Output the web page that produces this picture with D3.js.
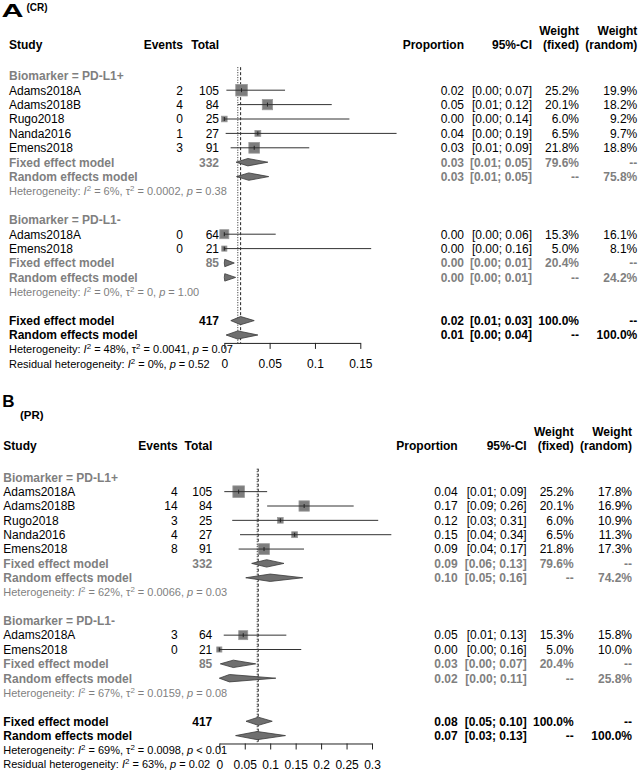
<!DOCTYPE html>
<html><head><meta charset="utf-8">
<script src="https://cdn.jsdelivr.net/npm/d3@7"></script>
<style>
body{margin:0;background:#fff}
svg{display:block;font-family:"Liberation Sans",Arial,Helvetica,sans-serif}
text{white-space:pre}
</style>
</head><body>
<svg id="c" width="639" height="775"></svg>
<script>
// ---------- shared data ----------
const groupLabels = ["Biomarker = PD-L1+", "Biomarker = PD-L1-"];
const studyNames = ["Adams2018A","Adams2018B","Rugo2018","Nanda2016","Emens2018","Adams2018A","Emens2018"];
const totalN = [105, 84, 25, 27, 91, 64, 21];
const modelTotals = [332, 85, 417];
const wFixed = [25.2, 20.1, 6.0, 6.5, 21.8, 15.3, 5.0];
const modelWFixed = [79.6, 20.4, 100.0];

// ---------- panel A (CR) ----------
const eventsA = [2, 4, 0, 1, 3, 0, 0];
const estA  = [0.019, 0.0476, 0.000, 0.037, 0.033, 0.000, 0.000];
const lowA  = [0.0023, 0.0148, 0.000, 0.0015, 0.007, 0.000, 0.000];
const highA = [0.067, 0.1185, 0.138, 0.190, 0.0937, 0.0567, 0.162];
const wRandomA = [19.9, 18.2, 9.2, 9.7, 18.8, 16.1, 8.1];
const fixedEstA  = [0.026, 0.0005, 0.018];
const fixedLowA  = [0.013, 0.000, 0.0072];
const fixedHighA = [0.048, 0.011, 0.033];
const randomEstA  = [0.027, 0.0005, 0.0149];
const randomLowA  = [0.0135, 0.000, 0.002];
const randomHighA = [0.049, 0.0125, 0.037];
const modelWRandomA = [75.8, 24.2, 100.0];
const hetI2A  = ["6%", "0%", "48%"];
const hetTauA = ["0.0002", "0", "0.0041"];
const hetPA   = ["= 0.38", "= 1.00", "= 0.07"];
const residA  = ["0%", "= 0.52"];
const ticksA  = [0, 0.05, 0.1, 0.15];

// ---------- panel B (PR) ----------
const eventsB = [4, 14, 3, 4, 8, 3, 0];
const estB  = [0.038, 0.1667, 0.12, 0.148, 0.0879, 0.047, 0.000];
const lowB  = [0.0098, 0.094, 0.0254, 0.0407, 0.038, 0.0087, 0.000];
const highB = [0.094, 0.264, 0.3122, 0.338, 0.1664, 0.1317, 0.161];
const wRandomB = [17.8, 16.9, 10.9, 11.3, 17.3, 15.8, 10.0];
const fixedEstB  = [0.093, 0.0275, 0.0765];
const fixedLowB  = [0.0636, 0.002, 0.0525];
const fixedHighB = [0.127, 0.0715, 0.104];
const randomEstB  = [0.100, 0.020, 0.0745];
const randomLowB  = [0.052, 0.000, 0.032];
const randomHighB = [0.164, 0.111, 0.130];
const modelWRandomB = [74.2, 25.8, 100.0];
const hetI2B  = ["62%", "67%", "69%"];
const hetTauB = ["0.0066", "0.0159", "0.0098"];
const hetPB   = ["= 0.03", "= 0.08", "< 0.01"];
const residB  = ["63%", "= 0.02"];
const ticksB  = [0, 0.05, 0.1, 0.15, 0.2, 0.25, 0.3];

// ---------- drawing ----------
const svg = d3.select("#c");
const GRAY = "#7f7f7f";
const f2 = d3.format(".2f");
const f1 = d => d3.format(".1f")(d) + "%";
const ci = (l, h) => "[" + f2(l) + "; " + f2(h) + "]";

function rich(g, x, y, segs, size, color) {
  const t = g.append("text").attr("x", x).attr("y", y)
    .attr("font-size", size).attr("fill", color);
  let up = false;
  segs.forEach(s => {
    const ts = t.append("tspan").text(s.t);
    if (s.sup) { ts.attr("dy", -4).attr("font-size", size * 0.72); up = true; }
    else if (up) { ts.attr("dy", 4); up = false; }
    if (s.it) ts.attr("font-style", "italic");
  });
}

function txt(g, x, y, s, o = {}) {
  return g.append("text").attr("x", x).attr("y", y).text(s)
    .attr("font-size", o.size || 12)
    .attr("font-weight", o.bold ? "bold" : null)
    .attr("fill", o.color || "#000")
    .attr("text-anchor", o.anchor || "start");
}

function panel(p) {
  const g = svg.append("g");
  const x = d3.scaleLinear().domain([0, p.ticks[p.ticks.length - 1]]).range([p.x0, p.x1]);
  const rowY = i => p.top + i * p.dy;
  const base = i => rowY(i) + 4.3;

  // panel label
  p.drawLabel(g);

  // headers
  const hy = p.top - 27, wy = p.top - 41;
  txt(g, p.xStudy, hy, "Study", {bold: true});
  txt(g, p.xEvents, hy, "Events", {bold: true, anchor: "end"});
  txt(g, p.xTotal, hy, "Total", {bold: true, anchor: "end"});
  txt(g, p.xProp, hy, "Proportion", {bold: true, anchor: "end"});
  txt(g, p.xCI, hy, "95%-CI", {bold: true, anchor: "end"});
  txt(g, p.xWF, wy, "Weight", {bold: true, anchor: "end"});
  txt(g, p.xWF, hy, "(fixed)", {bold: true, anchor: "end"});
  txt(g, p.xWR, wy, "Weight", {bold: true, anchor: "end"});
  txt(g, p.xWR, hy, "(random)", {bold: true, anchor: "end"});

  const studyRows = [1, 2, 3, 4, 5, 11, 12];
  const groupRows = [0, 10];
  const fixedRows = [6, 13, 17];
  const randomRows = [7, 14, 18];
  const hetRows = [8, 15, 19];
  const axisY = rowY(18.55);

  // reference lines
  g.append("line").attr("x1", x(p.fixedEst[2])).attr("x2", x(p.fixedEst[2]))
    .attr("y1", rowY(-0.6)).attr("y2", axisY)
    .attr("stroke", "#222").attr("stroke-width", 1).attr("stroke-dasharray", "3,2");
  g.append("line").attr("x1", x(p.randomEst[2])).attr("x2", x(p.randomEst[2]))
    .attr("y1", rowY(-0.6)).attr("y2", axisY)
    .attr("stroke", "#222").attr("stroke-width", 1).attr("stroke-dasharray", "1,1.5");

  groupLabels.forEach((l, i) => txt(g, p.xStudy, base(groupRows[i]), l, {bold: true, color: GRAY}));

  studyNames.forEach((n, i) => {
    const r = studyRows[i], y = rowY(r), b = base(r);
    txt(g, p.xStudy, b, n);
    txt(g, p.xEvents, b, String(p.events[i]), {anchor: "end"});
    txt(g, p.xTotal, b, String(totalN[i]), {anchor: "end"});
    txt(g, p.xProp, b, f2(p.est[i]), {anchor: "end"});
    txt(g, p.xCI, b, ci(p.low[i], p.high[i]), {anchor: "end"});
    txt(g, p.xWF, b, f1(wFixed[i]), {anchor: "end"});
    txt(g, p.xWR, b, f1(p.wRandom[i]), {anchor: "end"});
    const s = 2.3 * Math.sqrt(wFixed[i]);
    g.append("rect").attr("x", x(p.est[i]) - s / 2).attr("y", y - s / 2)
      .attr("width", s).attr("height", s)
      .attr("fill", "#7d7d7d").attr("stroke", "#999").attr("stroke-width", 0.8);
    g.append("line").attr("x1", x(p.low[i])).attr("x2", x(p.high[i]))
      .attr("y1", y).attr("y2", y).attr("stroke", "#333").attr("stroke-width", 1);
    g.append("line").attr("x1", x(p.est[i])).attr("x2", x(p.est[i]))
      .attr("y1", y - 2).attr("y2", y + 2).attr("stroke", "#222").attr("stroke-width", 1);
  });

  function diamond(est, lo, hi, y, h) {
    g.append("polygon")
      .attr("points", [[x(lo), y], [x(est), y - h], [x(hi), y], [x(est), y + h]].map(d => d.join(",")).join(" "))
      .attr("fill", "#6f6f6f").attr("stroke", "#3a3a3a").attr("stroke-width", 0.8);
  }

  [0, 1, 2].forEach(k => {
    const col = k < 2 ? GRAY : "#000";
    const fr = fixedRows[k], rr = randomRows[k];
    const fo = {bold: true, color: col, anchor: "end"};
    txt(g, p.xStudy, base(fr), "Fixed effect model", {bold: true, color: col});
    txt(g, p.xTotal, base(fr), String(modelTotals[k]), fo);
    txt(g, p.xProp, base(fr), f2(p.fixedEst[k]), fo);
    txt(g, p.xCI, base(fr), ci(p.fixedLow[k], p.fixedHigh[k]), fo);
    txt(g, p.xWF, base(fr), f1(modelWFixed[k]), fo);
    txt(g, p.xWR, base(fr), "--", fo);
    txt(g, p.xStudy, base(rr), "Random effects model", {bold: true, color: col});
    txt(g, p.xProp, base(rr), f2(p.randomEst[k]), fo);
    txt(g, p.xCI, base(rr), ci(p.randomLow[k], p.randomHigh[k]), fo);
    txt(g, p.xWF, base(rr), "--", fo);
    txt(g, p.xWR, base(rr), f1(p.modelWRandom[k]), fo);
    const h = k < 2 ? 3.7 : 4.1;
    diamond(p.fixedEst[k], p.fixedLow[k], p.fixedHigh[k], rowY(fr), h);
    diamond(p.randomEst[k], p.randomLow[k], p.randomHigh[k], rowY(rr), h);
    rich(g, p.xStudy, rowY(hetRows[k]) + 4, [
      {t: "Heterogeneity: "}, {t: "I", it: true}, {t: "2", sup: true},
      {t: " = " + p.hetI2[k] + ", \u03c4"}, {t: "2", sup: true},
      {t: " = " + p.hetTau[k] + ", "}, {t: "p", it: true}, {t: " " + p.hetP[k]}
    ], 11, col);
  });
  rich(g, p.xStudy, rowY(20) + 4, [
    {t: "Residual heterogeneity: "}, {t: "I", it: true}, {t: "2", sup: true},
    {t: " = " + p.resid[0] + ", "}, {t: "p", it: true}, {t: " " + p.resid[1]}
  ], 11, "#000");

  // axis
  const ax = g.append("g").attr("transform", `translate(0,${axisY})`)
    .call(d3.axisBottom(x).tickValues(p.ticks).tickSize(6).tickSizeOuter(0)
      .tickFormat(d => String(+d.toFixed(2))));
  ax.select(".domain").attr("stroke", "#222");
  ax.selectAll(".tick line").attr("stroke", "#222");
  ax.selectAll(".tick text").attr("font-size", 12).attr("fill", "#000")
    .attr("font-family", null).attr("dy", 0).attr("y", base(20) - axisY);
  ax.attr("font-family", null);
}

panel({
  top: 75.8, dy: 14.4, xStudy: 9, xEvents: 183, xTotal: 219,
  x0: 224.3, x1: 360.3, ticks: ticksA,
  xProp: 464, xCI: 532, xWF: 579, xWR: 637.3,
  events: eventsA, est: estA, low: lowA, high: highA, wRandom: wRandomA,
  fixedEst: fixedEstA, fixedLow: fixedLowA, fixedHigh: fixedHighA,
  randomEst: randomEstA, randomLow: randomLowA, randomHigh: randomHighA,
  modelWRandom: modelWRandomA, hetI2: hetI2A, hetTau: hetTauA, hetP: hetPA, resid: residA,
  drawLabel: g => {
    txt(g, 1.5, 16.7, "A", {bold: true, size: 18}).attr("textLength", 22).attr("lengthAdjust", "spacingAndGlyphs");
    txt(g, 26.5, 11, "(CR)", {bold: true, size: 10});
  }
});

panel({
  top: 477.3, dy: 14.35, xStudy: 3.3, xEvents: 177.7, xTotal: 212.3,
  x0: 219.3, x1: 372, ticks: ticksB,
  xProp: 457.7, xCI: 526.7, xWF: 573.7, xWR: 632,
  events: eventsB, est: estB, low: lowB, high: highB, wRandom: wRandomB,
  fixedEst: fixedEstB, fixedLow: fixedLowB, fixedHigh: fixedHighB,
  randomEst: randomEstB, randomLow: randomLowB, randomHigh: randomHighB,
  modelWRandom: modelWRandomB, hetI2: hetI2B, hetTau: hetTauB, hetP: hetPB, resid: residB,
  drawLabel: g => {
    txt(g, 2.2, 406.7, "B", {bold: true, size: 17});
    txt(g, 20, 418.5, "(PR)", {bold: true, size: 11.5});
  }
});
</script>
</body></html>
